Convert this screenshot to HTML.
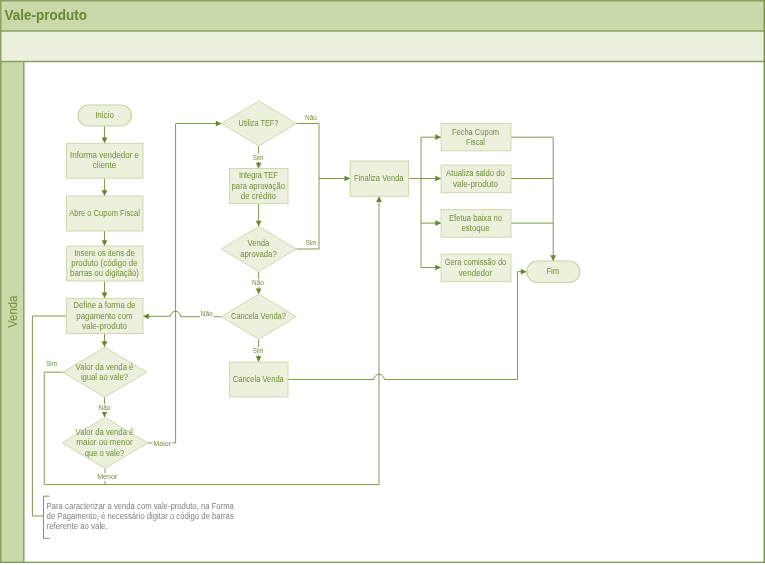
<!DOCTYPE html>
<html lang="pt-BR">
<head>
<meta charset="utf-8">
<title>Vale-produto</title>
<style>
html,body{margin:0;padding:0;background:#fff;}
body{width:765px;height:565px;overflow:hidden;}
svg{display:block;font-family:"Liberation Sans",sans-serif;will-change:transform;}
.s{fill:#ebf1dd;stroke:#cddab0;stroke-width:1;}
.c{fill:none;stroke:#76923c;stroke-width:0.92;}
.p{stroke:#c6d6a2;stroke-width:1.2;}
.a{fill:#66852e;stroke:none;}
.t{fill:#708d38;}
.g{fill:#7f7f7f;}
</style>
</head>
<body>
<svg width="765" height="565" viewBox="0 0 765 565">
<rect x="0" y="0" width="765" height="565" fill="#fff"/>
<rect x="1" y="1" width="763" height="30" fill="#c9d9a9"/>
<rect x="1" y="31" width="763" height="30" fill="#ebf0df"/>
<rect x="1" y="61" width="23" height="501.5" fill="#c9d9a9"/>
<path d="M0,30.9 H765 M0,61.45 H765" stroke="#8ba160" stroke-width="1.5" fill="none"/>
<path d="M23.8,61 V562" stroke="#8ba160" stroke-width="1.5" fill="none"/>
<path d="M0,0.75 H765 M0.75,0 V562.5" stroke="#8ba160" stroke-width="1.5" fill="none"/>
<rect x="763.6" y="0" width="1.4" height="562.9" fill="#75913f"/>
<rect x="0" y="561.7" width="765" height="1.2" fill="#75913f"/>
<text x="4.6" y="20" font-size="13.9" font-weight="bold" fill="#698736" textLength="82.30" lengthAdjust="spacingAndGlyphs">Vale-produto</text>
<text transform="translate(16.8,311.7) rotate(-90)" font-size="12.3" fill="#708d38" text-anchor="middle" textLength="32.32" lengthAdjust="spacingAndGlyphs">Venda</text>
<path class="c" d="M104.50,126.00 L104.50,143.20"/>
<polygon class="a" points="104.50,143.20 101.65,137.50 107.35,137.50"/>
<path class="c" d="M104.50,178.00 L104.50,196.00"/>
<polygon class="a" points="104.50,196.00 101.65,190.30 107.35,190.30"/>
<path class="c" d="M104.50,231.00 L104.50,246.00"/>
<polygon class="a" points="104.50,246.00 101.65,240.30 107.35,240.30"/>
<path class="c" d="M104.50,281.00 L104.50,298.30"/>
<polygon class="a" points="104.50,298.30 101.65,292.60 107.35,292.60"/>
<path class="c" d="M104.50,333.50 L104.50,346.90"/>
<polygon class="a" points="104.50,346.90 101.65,341.20 107.35,341.20"/>
<path class="c" d="M104.50,397.10 L104.50,417.30"/>
<polygon class="a" points="104.50,417.30 101.65,411.60 107.35,411.60"/>
<path class="c" d="M62.80,372.20 L44.20,372.20 L44.20,484.60 L379.00,484.60 L379.00,385.10"/>
<path class="c" d="M379.00,385.10 L379.00,196.30"/>
<polygon class="a" points="379.00,196.30 381.85,202.00 376.15,202.00"/>
<path class="c" d="M105.00,468.50 L105.00,484.60"/>
<path class="c" d="M147.70,442.90 L175.60,442.90 L175.60,123.50 L221.50,123.50"/>
<polygon class="a" points="221.50,123.50 215.80,126.35 215.80,120.65"/>
<path class="c" d="M258.60,146.00 L258.60,168.50"/>
<polygon class="a" points="258.60,168.50 255.75,162.80 261.45,162.80"/>
<path class="c" d="M296.50,123.50 L319.00,123.50 L319.00,178.50 L350.20,178.50"/>
<polygon class="a" points="350.20,178.50 344.50,181.35 344.50,175.65"/>
<path class="c" d="M258.60,203.60 L258.60,226.40"/>
<polygon class="a" points="258.60,226.40 255.75,220.70 261.45,220.70"/>
<path class="c" d="M296.50,249.00 L319.00,249.00 L319.00,178.50"/>
<path class="c" d="M258.60,271.60 L258.60,294.20"/>
<polygon class="a" points="258.60,294.20 255.75,288.50 261.45,288.50"/>
<path class="c" d="M221.5,316.7 H180.75 A5.2,5.15 0 0 0 170.35,316.3 H149"/>
<path class="c" d="M150.00,316.30 L143.20,316.30"/>
<polygon class="a" points="143.20,316.30 148.90,313.45 148.90,319.15"/>
<path class="c" d="M258.60,339.40 L258.60,362.00"/>
<polygon class="a" points="258.60,362.00 255.75,356.30 261.45,356.30"/>
<path class="c" d="M288,379.5 H373.85 A5.2,5.1 0 0 1 384.25,379.5 H517.5 V271.7 H521"/>
<path class="c" d="M520.00,271.70 L526.60,271.70"/>
<polygon class="a" points="526.60,271.70 520.90,274.55 520.90,268.85"/>
<path class="c" d="M408.50,178.50 L441.10,178.50"/>
<polygon class="a" points="441.10,178.50 435.40,181.35 435.40,175.65"/>
<path class="c" d="M421.00,178.50 L421.00,137.20 L441.10,137.20"/>
<polygon class="a" points="441.10,137.20 435.40,140.05 435.40,134.35"/>
<path class="c" d="M421.00,178.50 L421.00,223.10 L441.10,223.10"/>
<polygon class="a" points="441.10,223.10 435.40,225.95 435.40,220.25"/>
<path class="c" d="M421.00,223.10 L421.00,267.50 L441.10,267.50"/>
<polygon class="a" points="441.10,267.50 435.40,270.35 435.40,264.65"/>
<path class="c" d="M511.00,137.20 L553.20,137.20 L553.20,261.00"/>
<polygon class="a" points="553.20,261.00 550.35,255.30 556.05,255.30"/>
<path class="c" d="M511.00,178.50 L553.20,178.50"/>
<path class="c" d="M511.00,223.10 L553.20,223.10"/>
<path class="c" d="M66.50,316.00 L32.40,316.00 L32.40,516.00 L43.50,516.00"/>
<path class="c" d="M49.70,496.20 L43.50,496.20 L43.50,538.40 L49.70,538.40"/>
<rect class="s p" x="78.00" y="105.00" width="53.50" height="21.00" rx="10.50" ry="10.50"/>
<text class="t" x="104.50" y="118.07" font-size="8.3" text-anchor="middle" textLength="18.74" lengthAdjust="spacingAndGlyphs">Inicio</text>
<rect class="s" x="66.50" y="143.30" width="76.50" height="34.90"/>
<text class="t" x="104.50" y="157.92" font-size="8.3" text-anchor="middle" textLength="68.98" lengthAdjust="spacingAndGlyphs">Informa vendedor e</text>
<text class="t" x="104.50" y="168.22" font-size="8.3" text-anchor="middle" textLength="23.29" lengthAdjust="spacingAndGlyphs">cliente</text>
<rect class="s" x="66.50" y="196.00" width="76.50" height="35.00"/>
<text class="t" x="104.50" y="216.07" font-size="8.3" text-anchor="middle" textLength="70.75" lengthAdjust="spacingAndGlyphs">Abre o Cupom Fiscal</text>
<rect class="s" x="66.50" y="246.00" width="76.50" height="35.00"/>
<text class="t" x="104.50" y="255.77" font-size="8.3" text-anchor="middle" textLength="60.73" lengthAdjust="spacingAndGlyphs">Insere os itens de</text>
<text class="t" x="104.50" y="266.07" font-size="8.3" text-anchor="middle" textLength="66.46" lengthAdjust="spacingAndGlyphs">produto (código de</text>
<text class="t" x="104.50" y="276.37" font-size="8.3" text-anchor="middle" textLength="68.88" lengthAdjust="spacingAndGlyphs">barras ou digitação)</text>
<rect class="s" x="66.50" y="298.30" width="76.50" height="35.20"/>
<text class="t" x="104.50" y="308.27" font-size="8.3" text-anchor="middle" textLength="62.34" lengthAdjust="spacingAndGlyphs">Define a forma de</text>
<text class="t" x="104.50" y="318.57" font-size="8.3" text-anchor="middle" textLength="56.28" lengthAdjust="spacingAndGlyphs">pagamento com</text>
<text class="t" x="104.50" y="328.87" font-size="8.3" text-anchor="middle" textLength="44.89" lengthAdjust="spacingAndGlyphs">vale-produto</text>
<polygon class="s" points="62.80,372.20 104.80,347.20 146.80,372.20 104.80,397.20"/>
<text class="t" x="104.50" y="369.62" font-size="8.3" text-anchor="middle" textLength="57.81" lengthAdjust="spacingAndGlyphs">Valor da venda é</text>
<text class="t" x="104.50" y="379.92" font-size="8.3" text-anchor="middle" textLength="47.13" lengthAdjust="spacingAndGlyphs">igual ao vale?</text>
<polygon class="s" points="62.25,442.90 105.00,417.40 147.75,442.90 105.00,468.40"/>
<text class="t" x="104.50" y="435.17" font-size="8.3" text-anchor="middle" textLength="57.81" lengthAdjust="spacingAndGlyphs">Valor da venda é</text>
<text class="t" x="104.50" y="445.47" font-size="8.3" text-anchor="middle" textLength="56.44" lengthAdjust="spacingAndGlyphs">maior ou menor</text>
<text class="t" x="104.50" y="455.77" font-size="8.3" text-anchor="middle" textLength="39.72" lengthAdjust="spacingAndGlyphs">que o vale?</text>
<polygon class="s" points="221.30,123.50 258.80,101.00 296.30,123.50 258.80,146.00"/>
<text class="t" x="258.50" y="126.07" font-size="8.3" text-anchor="middle" textLength="39.76" lengthAdjust="spacingAndGlyphs">Utiliza TEF?</text>
<rect class="s" x="229.60" y="168.50" width="58.40" height="35.10"/>
<text class="t" x="258.30" y="178.27" font-size="8.3" text-anchor="middle" textLength="38.81" lengthAdjust="spacingAndGlyphs">Integra TEF</text>
<text class="t" x="258.30" y="188.57" font-size="8.3" text-anchor="middle" textLength="53.43" lengthAdjust="spacingAndGlyphs">para aprovação</text>
<text class="t" x="258.30" y="198.87" font-size="8.3" text-anchor="middle" textLength="35.24" lengthAdjust="spacingAndGlyphs">de crédito</text>
<polygon class="s" points="221.30,249.00 258.80,226.50 296.30,249.00 258.80,271.50"/>
<text class="t" x="258.50" y="246.42" font-size="8.3" text-anchor="middle" textLength="21.81" lengthAdjust="spacingAndGlyphs">Venda</text>
<text class="t" x="258.50" y="256.72" font-size="8.3" text-anchor="middle" textLength="36.37" lengthAdjust="spacingAndGlyphs">aprovada?</text>
<polygon class="s" points="221.30,316.60 258.80,294.10 296.30,316.60 258.80,339.10"/>
<text class="t" x="258.50" y="319.17" font-size="8.3" text-anchor="middle" textLength="54.86" lengthAdjust="spacingAndGlyphs">Cancela Venda?</text>
<rect class="s" x="229.60" y="362.10" width="58.40" height="34.80"/>
<text class="t" x="258.30" y="381.87" font-size="8.3" text-anchor="middle" textLength="50.89" lengthAdjust="spacingAndGlyphs">Cancela Venda</text>
<rect class="s" x="350.20" y="161.00" width="58.30" height="35.30"/>
<text class="t" x="378.80" y="181.17" font-size="8.3" text-anchor="middle" textLength="49.54" lengthAdjust="spacingAndGlyphs">Finaliza Venda</text>
<rect class="s" x="441.10" y="123.40" width="69.90" height="27.40"/>
<text class="t" x="475.50" y="134.52" font-size="8.3" text-anchor="middle" textLength="47.19" lengthAdjust="spacingAndGlyphs">Fecha Cupom</text>
<text class="t" x="475.50" y="144.82" font-size="8.3" text-anchor="middle" textLength="18.88" lengthAdjust="spacingAndGlyphs">Fiscal</text>
<rect class="s" x="441.10" y="165.10" width="69.90" height="27.60"/>
<text class="t" x="475.50" y="176.32" font-size="8.3" text-anchor="middle" textLength="58.84" lengthAdjust="spacingAndGlyphs">Atualiza saldo do</text>
<text class="t" x="475.50" y="186.62" font-size="8.3" text-anchor="middle" textLength="44.89" lengthAdjust="spacingAndGlyphs">vale-produto</text>
<rect class="s" x="441.10" y="209.60" width="69.90" height="27.60"/>
<text class="t" x="475.50" y="220.82" font-size="8.3" text-anchor="middle" textLength="53.15" lengthAdjust="spacingAndGlyphs">Efetua baixa no</text>
<text class="t" x="475.50" y="231.12" font-size="8.3" text-anchor="middle" textLength="28.10" lengthAdjust="spacingAndGlyphs">estoque</text>
<rect class="s" x="441.10" y="254.20" width="69.90" height="27.40"/>
<text class="t" x="475.50" y="265.32" font-size="8.3" text-anchor="middle" textLength="61.70" lengthAdjust="spacingAndGlyphs">Gera comissão do</text>
<text class="t" x="475.50" y="275.62" font-size="8.3" text-anchor="middle" textLength="33.33" lengthAdjust="spacingAndGlyphs">vendedor</text>
<rect class="s p" x="526.80" y="261.00" width="53.00" height="21.50" rx="10.75" ry="10.75"/>
<text class="t" x="552.80" y="274.07" font-size="8.3" text-anchor="middle" textLength="12.75" lengthAdjust="spacingAndGlyphs">Fim</text>
<rect x="97.75" y="403.90" width="13.49" height="8" fill="#fff"/>
<text class="t" x="104.50" y="410.06" font-size="7.0" text-anchor="middle" textLength="11.89" lengthAdjust="spacingAndGlyphs">Não</text>
<text class="t" x="51.50" y="365.86" font-size="7.0" text-anchor="middle" textLength="10.71" lengthAdjust="spacingAndGlyphs">Sim</text>
<rect x="96.49" y="473.00" width="21.43" height="8" fill="#fff"/>
<text class="t" x="107.20" y="479.16" font-size="7.0" text-anchor="middle" textLength="19.83" lengthAdjust="spacingAndGlyphs">Menor</text>
<rect x="152.72" y="439.60" width="19.16" height="8" fill="#fff"/>
<text class="t" x="162.30" y="445.76" font-size="7.0" text-anchor="middle" textLength="17.56" lengthAdjust="spacingAndGlyphs">Maior</text>
<rect x="251.84" y="153.70" width="12.31" height="8" fill="#fff"/>
<text class="t" x="258.00" y="159.86" font-size="7.0" text-anchor="middle" textLength="10.71" lengthAdjust="spacingAndGlyphs">Sim</text>
<text class="t" x="311.00" y="119.86" font-size="7.0" text-anchor="middle" textLength="11.89" lengthAdjust="spacingAndGlyphs">Não</text>
<text class="t" x="311.00" y="244.86" font-size="7.0" text-anchor="middle" textLength="10.71" lengthAdjust="spacingAndGlyphs">Sim</text>
<rect x="251.25" y="279.10" width="13.49" height="8" fill="#fff"/>
<text class="t" x="258.00" y="285.26" font-size="7.0" text-anchor="middle" textLength="11.89" lengthAdjust="spacingAndGlyphs">Não</text>
<rect x="199.95" y="310.30" width="13.49" height="8" fill="#fff"/>
<text class="t" x="206.70" y="316.46" font-size="7.0" text-anchor="middle" textLength="11.89" lengthAdjust="spacingAndGlyphs">Não</text>
<rect x="251.84" y="347.10" width="12.31" height="8" fill="#fff"/>
<text class="t" x="258.00" y="353.26" font-size="7.0" text-anchor="middle" textLength="10.71" lengthAdjust="spacingAndGlyphs">Sim</text>
<text class="g" x="46.6" y="508.60" font-size="8.3" textLength="187.31" lengthAdjust="spacingAndGlyphs">Para caracterizar a venda com vale-produto, na Forma</text>
<text class="g" x="46.6" y="518.70" font-size="8.3" textLength="187.14" lengthAdjust="spacingAndGlyphs">de Pagamento, é necessário digitar o código de barras</text>
<text class="g" x="46.6" y="528.80" font-size="8.3" textLength="61.08" lengthAdjust="spacingAndGlyphs">referente ao vale.</text>
</svg>
</body>
</html>
